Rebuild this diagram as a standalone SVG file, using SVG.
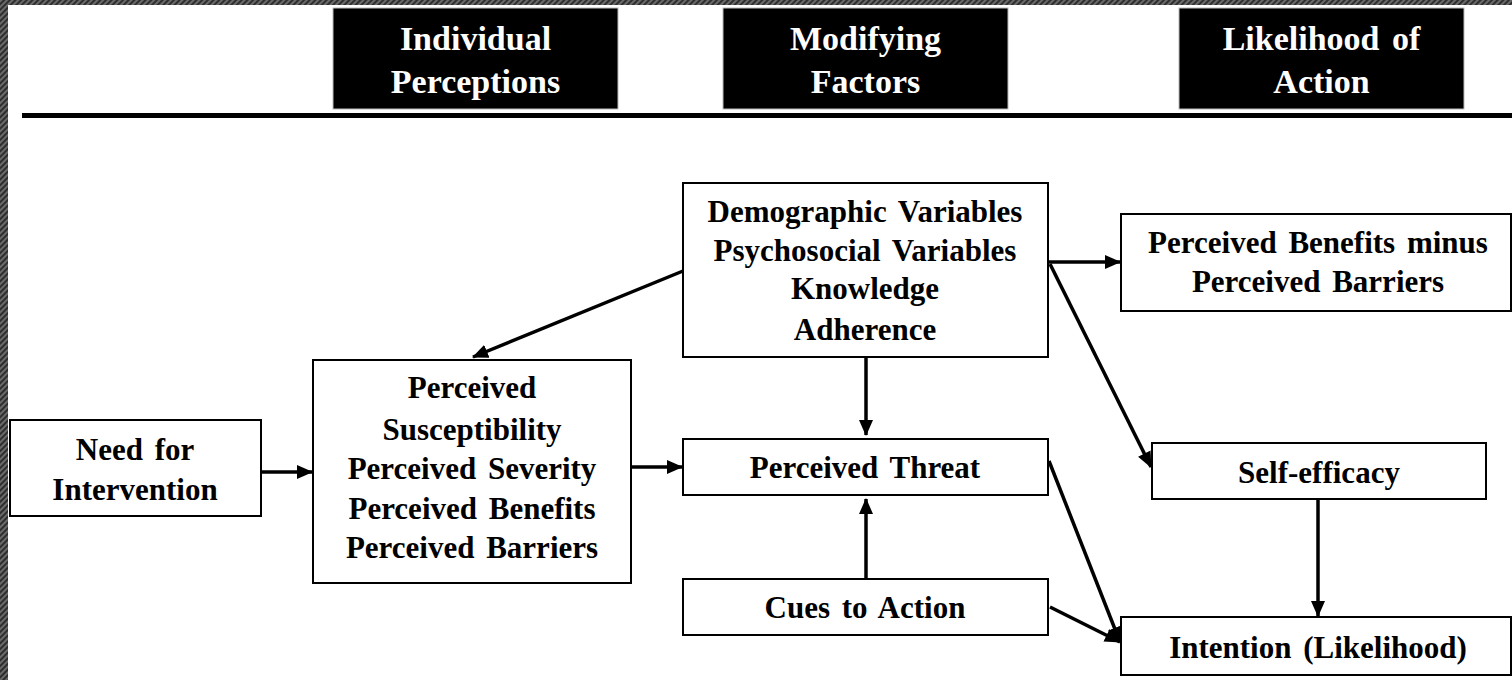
<svg xmlns="http://www.w3.org/2000/svg" width="1512" height="680" viewBox="0 0 1512 680">
  <defs>
    <pattern id="hatch" patternUnits="userSpaceOnUse" width="4" height="4" patternTransform="rotate(45)">
      <rect width="4" height="4" fill="#2e2e2e"/>
      <rect width="2" height="4" fill="#6a6a6a"/>
    </pattern>
    <marker id="arrow" viewBox="0 0 16 14" refX="15" refY="7" markerWidth="16" markerHeight="14" orient="auto" markerUnits="userSpaceOnUse">
      <path d="M0,0 L16,7 L0,14 Z" fill="#000"/>
    </marker>
    <style>
      .box { fill: #fff; stroke: #000; stroke-width: 2; }
      .head { fill: #000; stroke: #bbb; stroke-width: 1; }
      text { font-family: "Liberation Serif", "DejaVu Serif", "Times New Roman", serif; font-weight: bold; text-anchor: middle; }
      .lbl { font-size: 31px; fill: #000; word-spacing: 4px; }
      .hlbl { font-size: 34px; fill: #fff; }
      .conn { stroke: #000; stroke-width: 3.5; fill: none; marker-end: url(#arrow); }
    </style>
  </defs>

  <!-- page background and textured frame edges -->
  <rect width="1512" height="680" fill="#fff"/>
  <rect x="0" y="0" width="8" height="680" fill="url(#hatch)"/>
  <rect x="0" y="0" width="1512" height="5" fill="url(#hatch)"/>

  <!-- column headers -->
  <g id="header-individual">
    <rect class="head" x="333" y="8" width="285" height="101"/>
    <text class="hlbl" x="475.5" y="50">Individual</text>
    <text class="hlbl" x="475.5" y="93">Perceptions</text>
  </g>
  <g id="header-modifying">
    <rect class="head" x="723" y="8" width="285" height="101"/>
    <text class="hlbl" x="865.5" y="50">Modifying</text>
    <text class="hlbl" x="865.5" y="93">Factors</text>
  </g>
  <g id="header-likelihood">
    <rect class="head" x="1179" y="8" width="285" height="101"/>
    <text class="hlbl" x="1321.5" y="50" style="word-spacing:4px">Likelihood of</text>
    <text class="hlbl" x="1321.5" y="93">Action</text>
  </g>

  <!-- header rule -->
  <line x1="22" y1="115.5" x2="1512" y2="115.5" stroke="#000" stroke-width="5"/>

  <!-- nodes -->
  <g id="need">
    <rect class="box" x="10" y="420" width="251" height="96"/>
    <text class="lbl" x="135" y="460">Need for</text>
    <text class="lbl" x="135" y="500">Intervention</text>
  </g>
  <g id="perceptions">
    <rect class="box" x="313" y="360" width="318" height="223"/>
    <text class="lbl" x="472" y="398">Perceived</text>
    <text class="lbl" x="472" y="440">Susceptibility</text>
    <text class="lbl" x="472" y="479">Perceived Severity</text>
    <text class="lbl" x="472" y="519">Perceived Benefits</text>
    <text class="lbl" x="472" y="558">Perceived Barriers</text>
  </g>
  <g id="modifying">
    <rect class="box" x="683" y="183" width="365" height="174"/>
    <text class="lbl" x="865" y="222">Demographic Variables</text>
    <text class="lbl" x="865" y="261">Psychosocial Variables</text>
    <text class="lbl" x="865" y="299">Knowledge</text>
    <text class="lbl" x="865" y="340">Adherence</text>
  </g>
  <g id="threat">
    <rect class="box" x="683" y="439" width="365" height="56"/>
    <text class="lbl" x="865" y="478">Perceived Threat</text>
  </g>
  <g id="cues">
    <rect class="box" x="683" y="579" width="365" height="56"/>
    <text class="lbl" x="865" y="618">Cues to Action</text>
  </g>
  <g id="benefits-barriers">
    <rect class="box" x="1121" y="214" width="390" height="97"/>
    <text class="lbl" x="1318" y="253">Perceived Benefits minus</text>
    <text class="lbl" x="1318" y="292">Perceived Barriers</text>
  </g>
  <g id="self-efficacy">
    <rect class="box" x="1152" y="443" width="334" height="56"/>
    <text class="lbl" x="1319" y="483">Self-efficacy</text>
  </g>
  <g id="intention">
    <rect class="box" x="1121" y="617" width="390" height="58"/>
    <text class="lbl" x="1318" y="658">Intention (Likelihood)</text>
  </g>

  <!-- connectors -->
  <g id="connectors">
    <line class="conn" x1="261" y1="472" x2="312" y2="472"/>
    <line class="conn" x1="631" y1="467" x2="682" y2="467"/>
    <line class="conn" x1="683" y1="271" x2="473" y2="357"/>
    <line class="conn" x1="866" y1="357" x2="866" y2="435"/>
    <line class="conn" x1="866" y1="579" x2="866" y2="499"/>
    <line class="conn" x1="1048" y1="262" x2="1120" y2="262"/>
    <line class="conn" x1="1050" y1="264" x2="1151" y2="467"/>
    <line class="conn" x1="1049" y1="461" x2="1120" y2="642"/>
    <line class="conn" x1="1050" y1="607" x2="1120" y2="642"/>
    <line class="conn" x1="1318" y1="499" x2="1318" y2="616"/>
  </g>
</svg>
